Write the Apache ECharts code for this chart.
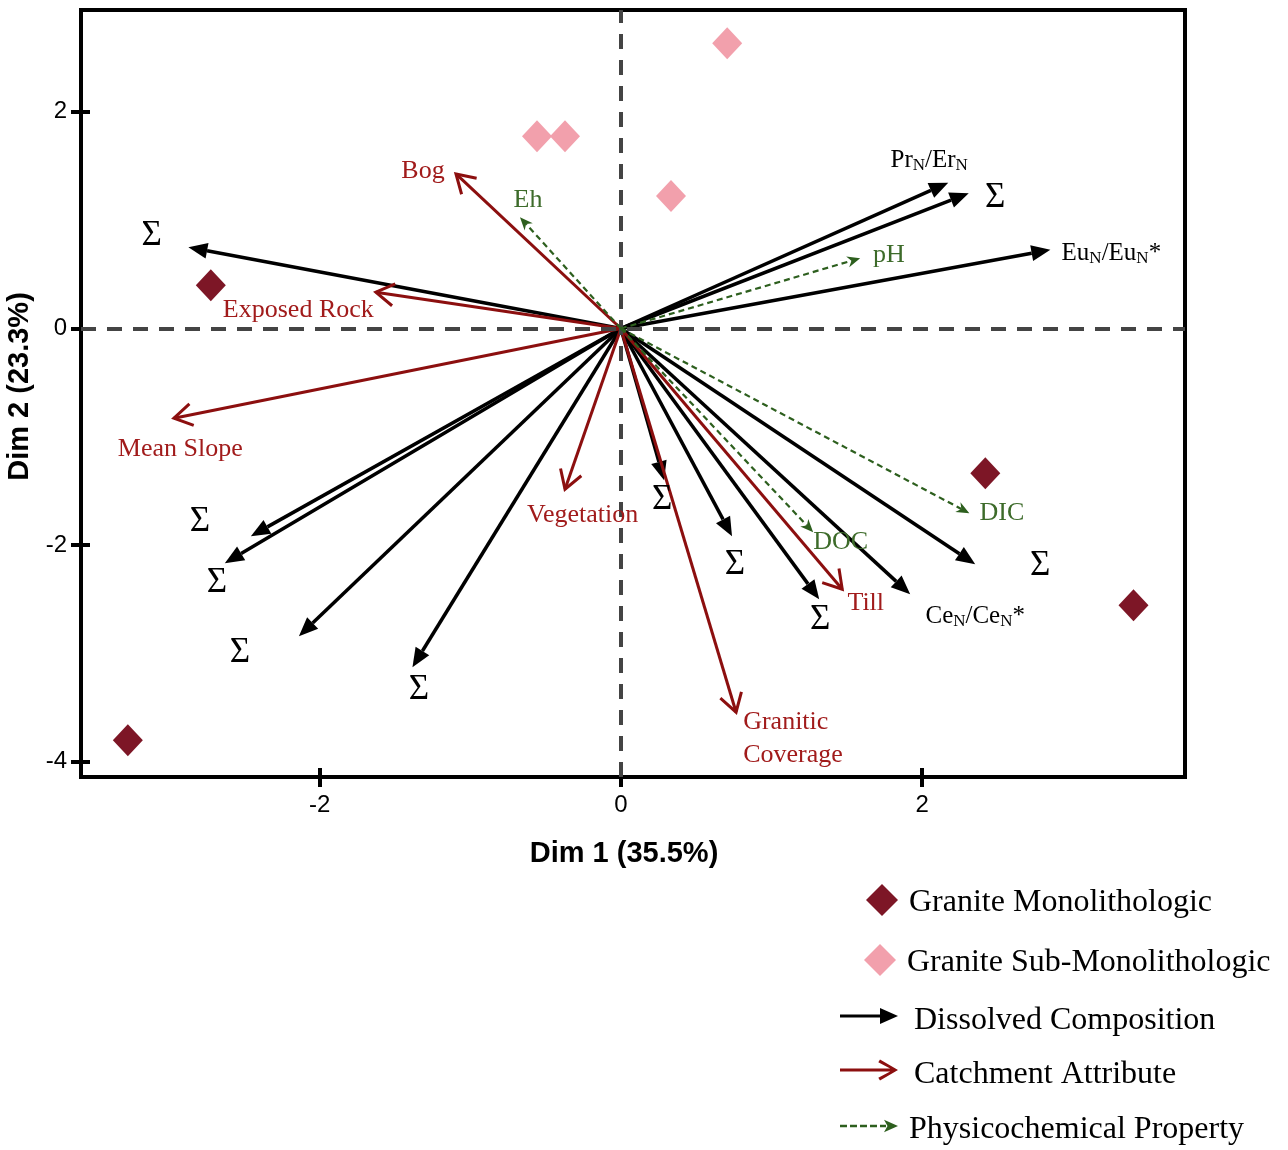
<!DOCTYPE html>
<html>
<head>
<meta charset="utf-8">
<script src="https://cdn.jsdelivr.net/npm/echarts@6/dist/echarts.min.js"></script>
<style>
html,body{margin:0;padding:0;background:#fff;}
#chart{width:1288px;height:1150px;}
</style>
</head>
<body>
<div id="chart"></div>
<script>
// ---------- DATA ----------
const xRange = [-3.585, 3.746];
const yRange = [-4.14, 2.94];
const xTicks = [-2, 0, 2];
const yTicks = [-4, -2, 0, 2];
const arrowOrigin = [0, 0];

const monolithologic = [[-2.723, 0.400], [-3.274, -3.800], [2.420, -1.336], [3.404, -2.554]];
const subMonolithologic = [[0.706, 2.633], [-0.557, 1.775], [-0.371, 1.775], [0.333, 1.223]];

const dissolvedNames = ['Σ', 'PrN/ErN', 'Σ', 'EuN/EuN*', 'Σ', 'Σ', 'Σ', 'Σ', 'Σ', 'Σ', 'Σ', 'CeN/CeN*', 'Σ'];
const dissolvedEnds = [[-2.872, 0.750], [2.174, 1.346], [2.310, 1.249], [2.852, 0.727], [-2.457, -1.917],
  [-2.630, -2.166], [-2.138, -2.840], [-1.384, -3.126], [0.287, -1.400], [0.738, -1.917],
  [1.317, -2.499], [1.921, -2.453], [2.353, -2.176]];
const dissolvedLabelAt = [[-3.115, 0.852], [2.047, 1.544], [2.486, 1.203], [3.257, 0.686], [-2.795, -1.788],
  [-2.683, -2.351], [-2.530, -2.998], [-1.341, -3.339], [0.274, -1.585], [0.758, -2.185],
  [1.324, -2.693], [2.353, -2.665], [2.785, -2.194]];

const catchmentNames = ['Bog', 'Exposed Rock', 'Mean Slope', 'Vegetation', 'Till', 'Granitic\nCoverage'];
const catchmentEnds = [[-1.095, 1.427], [-1.627, 0.335], [-2.968, -0.828], [-0.371, -1.483], [1.470, -2.407], [0.765, -3.542]];
const catchmentLabelAt = [[-1.314, 1.452], [-2.142, 0.169], [-2.926, -1.114], [-0.254, -1.723], [1.626, -2.536], [0.812, -3.787]];

const physicoNames = ['Eh', 'pH', 'DIC', 'DOC'];
const physicoEnds = [[-0.670, 1.027], [1.589, 0.649], [2.314, -1.705], [1.277, -1.880]];
const physicoLabelAt = [[-0.617, 1.183], [1.779, 0.677], [2.530, -1.705], [1.460, -1.973]];

const legendNames = ['Granite Monolithologic', 'Granite Sub-Monolithologic', 'Dissolved Composition', 'Catchment Attribute', 'Physicochemical Property'];

// ---------- STYLE ----------
const serif = "'Liberation Serif', 'Times New Roman', serif";
const sans = "'Liberation Sans', Arial, sans-serif";
const C = {
  mono: '#7D1626', sub: '#F2A0AC',
  black: '#000000', red: '#8C0F0F', redText: '#A11B1B',
  green: '#2D5F1E', greenText: '#3D6B2A', zero: '#444444'
};

function richify(name) {
  if (name === 'Σ') return '{g|Σ}';
  return '{m|' + name.replace(/([a-z])N/g, '$1}{s|N}{m|') + '}';
}
const richStyles = {
  g: { fontSize: 35, fontFamily: serif, fill: '#000' },
  m: { fontSize: 25, fontFamily: serif, fill: '#000', lineHeight: 26, verticalAlign: 'top', padding: [0, 0, 4, 0] },
  s: { fontSize: 17, fontFamily: serif, fill: '#000', lineHeight: 18, verticalAlign: 'bottom' }
};

function arrowSeries(name, ends, o) {
  return {
    type: 'custom', name: name, coordinateSystem: 'cartesian2d', silent: true, z: o.z,
    itemStyle: { color: o.color },
    data: ends,
    renderItem: function (params, api) {
      const p0 = api.coord(arrowOrigin);
      const p1 = api.coord([api.value(0), api.value(1)]);
      const dx = p1[0] - p0[0], dy = p1[1] - p0[1];
      const len = Math.sqrt(dx * dx + dy * dy);
      const ux = dx / len, uy = dy / len, nx = -uy, ny = ux;
      const L = o.headLen, W = o.headHalf;
      const bx = p1[0] - ux * L, by = p1[1] - uy * L;
      const children = [];
      if (o.head === 'open') {
        children.push({ type: 'line', shape: { x1: p0[0], y1: p0[1], x2: p1[0], y2: p1[1] },
          style: { stroke: o.color, lineWidth: o.width, fill: null } });
        children.push({ type: 'polyline', shape: { points: [[bx + nx * W, by + ny * W], p1, [bx - nx * W, by - ny * W]] },
          style: { stroke: o.color, lineWidth: o.width, fill: null, lineJoin: 'miter' } });
      } else {
        const ex = p1[0] - ux * L * o.notch, ey = p1[1] - uy * L * o.notch;
        children.push({ type: 'line', shape: { x1: p0[0], y1: p0[1], x2: ex, y2: ey },
          style: { stroke: o.color, lineWidth: o.width, lineDash: o.dash || null, fill: null } });
        children.push({ type: 'polygon', shape: { points: [p1, [bx + nx * W, by + ny * W], [ex, ey], [bx - nx * W, by - ny * W]] },
          style: { fill: o.color } });
      }
      return { type: 'group', children: children };
    }
  };
}

function labelSeries(names, positions, color, useRich, z) {
  return {
    type: 'custom', coordinateSystem: 'cartesian2d', silent: true, z: z,
    data: positions,
    renderItem: function (params, api) {
      const p = api.coord([api.value(0), api.value(1)]);
      const name = names[params.dataIndex];
      const multi = name.indexOf('\n') >= 0;
      const style = {
        text: useRich ? richify(name) : name,
        fill: color, fontSize: 26, fontFamily: serif,
        align: multi ? 'left' : 'center', verticalAlign: 'middle'
      };
      if (multi) style.lineHeight = 33;
      if (useRich) style.rich = richStyles;
      return { type: 'text', x: p[0], y: p[1], style: style };
    }
  };
}

const iconDiamond = 'path://M16,0L32,16L16,32L0,16Z';
const iconBlack = 'path://M0,9.5H40V3L58,11L40,19V12.5H0Z';
const iconRed = 'path://M0,10H54V13H0Z M40,1L58,11.5L40,22L38.3,19.2L53,11.5L38.3,3.8Z';
const iconGreen = 'path://M0,10H7V12.5H0Z M10,10H17V12.5H10Z M20,10H27V12.5H20Z M30,10H37V12.5H30Z M40,10H46V12.5H40Z M44,5L58,11.25L44,17.5L47.5,11.25Z';

function legendItem(i, icon, left, top, w, h, pad) {
  return {
    data: [{ name: legendNames[i], icon: icon }],
    left: left, top: top, itemWidth: w, itemHeight: h,
    padding: 0, selectedMode: false, orient: 'vertical',
    itemStyle: { borderWidth: 0, opacity: 1 },
    formatter: '{t|{name}}',
    textStyle: {
      fontFamily: serif, fontSize: 32, color: '#000', padding: pad,
      rich: { t: { fontFamily: serif, fontSize: 32, color: '#000' } }
    }
  };
}

const axisTickStyle = { color: '#000', width: 4 };

const option = {
  animation: false,
  backgroundColor: '#fff',
  grid: { left: 81, right: 103, top: 10, bottom: 373, show: true, borderColor: '#000', borderWidth: 4, containLabel: false, outerBoundsMode: 'none' },
  xAxis: [{
    type: 'value', min: xRange[0], max: xRange[1], position: 'bottom',
    axisLine: { show: true, onZero: false, lineStyle: { color: '#000', width: 4 } },
    axisTick: { show: true, customValues: xTicks, length: 10, lineStyle: axisTickStyle },
    axisLabel: { customValues: xTicks, fontSize: 24, color: '#000', fontFamily: sans, margin: 16 },
    splitLine: { show: false },
    name: 'Dim 1 (35.5%)', nameLocation: 'middle', nameGap: 62,
    nameTextStyle: { fontSize: 29, fontWeight: 'bold', color: '#000', fontFamily: sans, padding: [0, 18, 0, 0] }
  }, {
    type: 'value', min: xRange[0], max: xRange[1], position: 'bottom',
    axisLine: { show: false, onZero: false },
    axisTick: { show: true, inside: true, customValues: xTicks, length: 9, lineStyle: axisTickStyle },
    axisLabel: { show: false }, splitLine: { show: false }
  }],
  yAxis: [{
    type: 'value', min: yRange[0], max: yRange[1], position: 'left',
    axisLine: { show: true, onZero: false, lineStyle: { color: '#000', width: 4 } },
    axisTick: { show: true, customValues: yTicks, length: 10, lineStyle: axisTickStyle },
    axisLabel: { customValues: yTicks, fontSize: 24, color: '#000', fontFamily: sans, margin: 14 },
    splitLine: { show: false },
    name: 'Dim 2 (23.3%)', nameLocation: 'middle', nameGap: 44,
    nameTextStyle: { fontSize: 29, fontWeight: 'bold', color: '#000', fontFamily: sans, padding: [0, 0, 0, 14] }
  }, {
    type: 'value', min: yRange[0], max: yRange[1], position: 'left',
    axisLine: { show: false, onZero: false },
    axisTick: { show: true, inside: true, customValues: yTicks, length: 9, lineStyle: axisTickStyle },
    axisLabel: { show: false }, splitLine: { show: false }
  }],
  legend: [
    legendItem(0, iconDiamond, 866, 884, 44, 32, [6, 0, 0, 0]),
    legendItem(1, iconDiamond, 864, 944, 44, 32, [6, 0, 0, 0]),
    legendItem(2, iconBlack, 840, 1005, 58, 22, [10, 0, 0, 11]),
    legendItem(3, iconRed, 840, 1059, 58, 22, [10, 0, 0, 11]),
    legendItem(4, iconGreen, 840, 1114, 58, 22, [8, 0, 0, 6])
  ],
  series: [
    {
      type: 'line', data: [], silent: true, z: 1,
      markLine: {
        silent: true, symbol: 'none', animation: false, label: { show: false },
        lineStyle: { color: C.zero, width: 4, type: [15, 11] },
        data: [{ xAxis: 0 }, { yAxis: 0 }]
      }
    },
    arrowSeries(legendNames[2], dissolvedEnds, { color: C.black, width: 3.5, head: 'filled', headLen: 19, headHalf: 8, notch: 1, z: 3 }),
    arrowSeries(legendNames[3], catchmentEnds, { color: C.red, width: 3, head: 'open', headLen: 18, headHalf: 11, z: 4 }),
    arrowSeries(legendNames[4], physicoEnds, { color: C.green, width: 2.2, dash: [6, 4], head: 'filled', headLen: 13, headHalf: 5.5, notch: 0.7, z: 5 }),
    {
      type: 'scatter', name: legendNames[0], data: monolithologic, symbol: 'diamond', symbolSize: [30, 32],
      itemStyle: { color: C.mono, opacity: 1 }, silent: true, z: 6
    },
    {
      type: 'scatter', name: legendNames[1], data: subMonolithologic, symbol: 'diamond', symbolSize: [30, 32],
      itemStyle: { color: C.sub, opacity: 1 }, silent: true, z: 6
    },
    labelSeries(dissolvedNames, dissolvedLabelAt, '#000', true, 7),
    labelSeries(catchmentNames, catchmentLabelAt, C.redText, false, 7),
    labelSeries(physicoNames, physicoLabelAt, C.greenText, false, 7)
  ]
};

const chart = echarts.init(document.getElementById('chart'), null, { renderer: 'canvas' });
chart.setOption(option);
</script>
</body>
</html>
